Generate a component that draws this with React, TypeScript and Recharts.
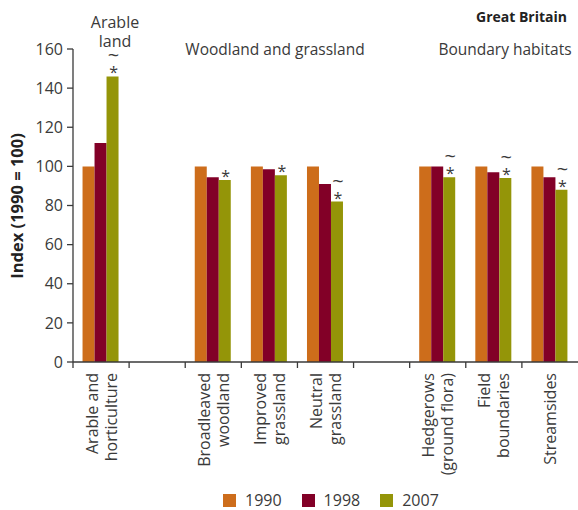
import React from 'react';
import { BarChart, Bar, XAxis, YAxis, Legend, LabelList } from 'recharts';

// Habitat categories; the two blank entries separate the three groups
const habitats = [
  'Arable and\nhorticulture',
  '',
  'Broadleaved\nwoodland',
  'Improved\ngrassland',
  'Neutral\ngrassland',
  ' ',
  'Hedgerows\n(ground flora)',
  'Field\nboundaries',
  'Streamsides',
];

const index1990 = [100, null, 100, 100, 100, null, 100, 100, 100];
const index1998 = [112, null, 94.5, 98.5, 91, null, 100, 97, 94.5];
const index2007 = [146, null, 93, 95.5, 82, null, 94.5, 94, 88];

// significance markers drawn above the 2007 bars
const markers2007 = ['~*', '', '*', '*', '~*', '', '~*', '~*', '~*'];

const yTicks = [0, 20, 40, 60, 80, 100, 120, 140, 160];

const seriesNames = ['1990', '1998', '2007'];
const seriesColors = ['#CD6D1B', '#820027', '#949508'];

const data = habitats.map((name, i) => ({
  name,
  y1990: index1990[i],
  y1998: index1998[i],
  y2007: index2007[i],
  marker: markers2007[i],
}));

const WIDTH = 578;
const HEIGHT = 510;
const LEFT = 73;
const RIGHT = 0;
const BAND = (WIDTH - LEFT - RIGHT) / habitats.length;

const FONT = '"Open Sans", "Noto Sans", sans-serif';
const TEXT = '#3a3a3a';
const AXIS = '#3a3a3a';

function HabitatTick(props: any) {
  const { x, y, payload } = props;
  const lines = String(payload.value).trim() ? String(payload.value).split('\n') : [];
  const gap = 19;
  const first = -((lines.length - 1) * gap) / 2;
  return (
    <g transform={`translate(${x},${y})`}>
      <line x1={-BAND / 2} y1={0} x2={-BAND / 2} y2={6} stroke={AXIS} strokeWidth={1.3} />
      <text
        transform="rotate(-90)"
        textAnchor="end"
        fontFamily={FONT}
        fontSize={16}
        fill={TEXT}
      >
        {lines.map((line, i) => (
          <tspan key={i} x={-11} y={first + i * gap + 6}>
            {line}
          </tspan>
        ))}
      </text>
    </g>
  );
}

function MarkerLabel(props: any) {
  const { x, y, width, value } = props;
  if (!value) return null;
  const cx = x + width / 2 + 1;
  const hasTilde = value.includes('~');
  return (
    <g fontFamily={FONT} fill={TEXT} textAnchor="middle">
      <text x={cx} y={y + 2} fontSize={16}>*</text>
      {hasTilde && (
        <text x={cx} y={y - 14} fontSize={20}>~</text>
      )}
    </g>
  );
}

function YearLegend() {
  return (
    <div style={{ display: 'flex', alignItems: 'center', marginLeft: 223, fontFamily: FONT, fontSize: 16, lineHeight: '14px', color: TEXT }}>
      {seriesNames.map((name, i) => (
        <div key={name} style={{ display: 'flex', alignItems: 'center', marginRight: 20 }}>
          <span style={{ width: 13, height: 13, background: seriesColors[i], display: 'inline-block', marginRight: 9 }} />
          <span>{name}</span>
        </div>
      ))}
    </div>
  );
}

export default function App() {
  return (
    <div style={{ position: 'absolute', left: 0, top: 0, width: WIDTH, height: HEIGHT, background: '#fff' }}>
      <BarChart
        width={WIDTH}
        height={HEIGHT}
        data={data}
        margin={{ top: 49, right: RIGHT, bottom: 0, left: 0 }}
        barCategoryGap="17%"
        barGap={0}
      >
        <XAxis
          dataKey="name"
          interval={0}
          height={148}
          tick={<HabitatTick />}
          tickLine={false}
          tickSize={0}
          tickMargin={0}
          axisLine={{ stroke: AXIS, strokeWidth: 1.3 }}
        />
        <YAxis
          width={LEFT}
          domain={[0, 160]}
          ticks={yTicks}
          interval={0}
          tickSize={6}
          tickMargin={4}
          tick={{ fill: TEXT, fontSize: 16, fontFamily: FONT }}
          tickLine={{ stroke: AXIS, strokeWidth: 1.3 }}
          axisLine={{ stroke: AXIS, strokeWidth: 1.3 }}
        />
        <Legend
          verticalAlign="middle"
          align="center"
          layout="horizontal"
          wrapperStyle={{ top: 493, left: 0, width: WIDTH }}
          content={<YearLegend />}
        />
        <Bar dataKey="y1990" name="1990" fill={seriesColors[0]} isAnimationActive={false} />
        <Bar dataKey="y1998" name="1998" fill={seriesColors[1]} isAnimationActive={false} />
        <Bar dataKey="y2007" name="2007" fill={seriesColors[2]} isAnimationActive={false}>
          <LabelList dataKey="marker" content={<MarkerLabel />} />
        </Bar>

        <text x={567} y={22} textAnchor="end" fontFamily={FONT} fontSize={14} fontWeight={700} fill="#222">
          Great Britain
        </text>
        <text x={115} y={28} textAnchor="middle" fontFamily={FONT} fontSize={16} fill={TEXT}>
          <tspan x={115}>Arable</tspan>
          <tspan x={115} dy={19}>land</tspan>
        </text>
        <text x={275} y={55} textAnchor="middle" fontFamily={FONT} fontSize={15.5} fill={TEXT}>
          Woodland and grassland
        </text>
        <text x={505} y={55} textAnchor="middle" fontFamily={FONT} fontSize={15.5} fill={TEXT}>
          Boundary habitats
        </text>
        <text
          transform="translate(23,206) rotate(-90)"
          textAnchor="middle"
          fontFamily={FONT}
          fontSize={16.5}
          fontWeight={700}
          fill="#222"
        >
          Index (1990 = 100)
        </text>
      </BarChart>
    </div>
  );
}
